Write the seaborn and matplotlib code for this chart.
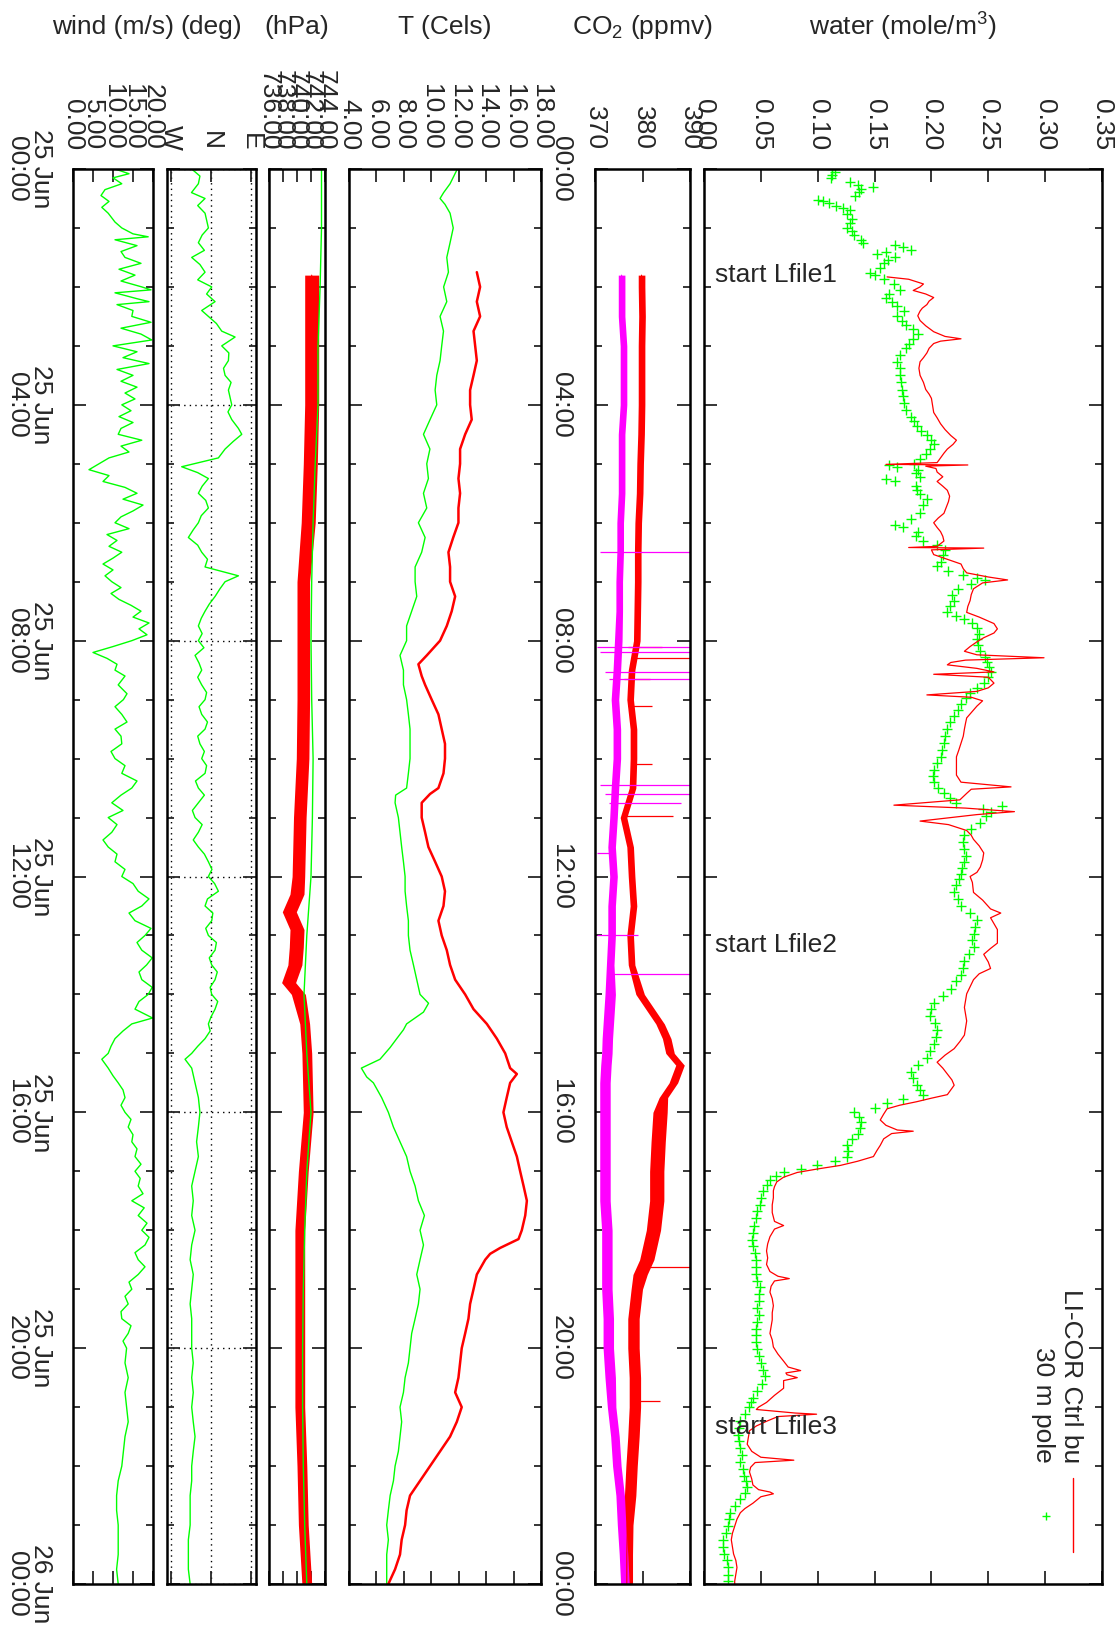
import numpy as np
import matplotlib
matplotlib.use("Agg")
import matplotlib.pyplot as plt
import seaborn as sns
from matplotlib.ticker import FixedLocator, NullLocator
from matplotlib.transforms import blended_transform_factory
from matplotlib.lines import Line2D

sns.set_style("white")
plt.rcParams['font.family'] = ['Liberation Sans', 'DejaVu Sans']
plt.rcParams['mathtext.default'] = 'regular'

# ---------------- data (hour of day, value) ----------------
water_pole = [
 (0.00,0.113),(0.05,0.115),(0.10,0.113),(0.15,0.112),(0.22,0.128),(0.27,0.135),(0.30,0.149),(0.34,0.138),
 (0.39,0.136),(0.45,0.133),(0.52,0.100),(0.55,0.105),(0.58,0.110),(0.62,0.116),(0.66,0.122),(0.70,0.128),
 (0.77,0.126),(0.85,0.130),(0.92,0.128),(1.00,0.126),(1.06,0.130),(1.12,0.132),(1.20,0.138),(1.25,0.140),
 (1.29,0.168),(1.33,0.175),(1.37,0.182),(1.40,0.160),(1.45,0.152),(1.50,0.168),(1.55,0.162),(1.60,0.158),
 (1.68,0.155),(1.76,0.146),(1.80,0.150),(1.86,0.158),(1.95,0.167),(2.05,0.172),(2.12,0.163),(2.18,0.160),
 (2.26,0.165),(2.33,0.170),(2.40,0.176),(2.50,0.170),(2.58,0.174),(2.65,0.178),(2.72,0.184),(2.80,0.188),
 (2.88,0.184),(2.96,0.180),(3.04,0.178),(3.15,0.172),(3.27,0.170),(3.38,0.172),(3.50,0.172),(3.62,0.173),
 (3.74,0.174),(3.85,0.175),(3.97,0.176),(4.08,0.178),(4.20,0.182),(4.28,0.185),(4.36,0.187),(4.44,0.191),
 (4.52,0.196),(4.60,0.200),(4.67,0.202),(4.75,0.199),(4.83,0.195),(4.92,0.190),(5.00,0.185),(5.02,0.163),
 (5.05,0.170),(5.10,0.188),(5.16,0.186),(5.22,0.190),(5.26,0.160),(5.30,0.168),(5.38,0.186),(5.45,0.187),
 (5.52,0.190),(5.60,0.196),(5.70,0.193),(5.84,0.190),(5.94,0.182),(6.04,0.168),(6.08,0.175),(6.15,0.188),
 (6.23,0.186),(6.31,0.193),(6.38,0.205),(6.46,0.212),(6.55,0.210),(6.66,0.208),(6.74,0.205),(6.82,0.215),
 (6.88,0.228),(6.94,0.240),(6.97,0.247),(7.04,0.235),(7.12,0.223),(7.22,0.218),(7.32,0.220),(7.42,0.216),
 (7.52,0.214),(7.58,0.222),(7.63,0.229),(7.70,0.236),(7.79,0.240),(7.88,0.242),(7.98,0.240),(8.08,0.241),
 (8.18,0.243),(8.28,0.247),(8.37,0.249),(8.45,0.251),(8.53,0.252),(8.62,0.250),(8.72,0.246),(8.80,0.240),
 (8.88,0.234),(8.98,0.230),(9.07,0.226),(9.17,0.223),(9.27,0.220),(9.38,0.216),(9.50,0.214),(9.62,0.212),
 (9.74,0.211),(9.85,0.209),(9.97,0.208),(10.08,0.205),(10.20,0.202),(10.30,0.201),(10.40,0.202),(10.50,0.206),
 (10.59,0.211),(10.67,0.216),(10.75,0.222),(10.80,0.262),(10.85,0.245),(10.90,0.252),(10.98,0.248),(11.10,0.243),
 (11.20,0.235),(11.30,0.229),(11.42,0.228),(11.53,0.229),(11.65,0.230),(11.76,0.229),(11.86,0.227),(11.95,0.226),
 (12.05,0.224),(12.15,0.222),(12.27,0.220),(12.38,0.223),(12.50,0.226),(12.62,0.234),(12.74,0.240),(12.85,0.238),
 (12.97,0.237),(13.08,0.236),(13.20,0.237),(13.32,0.233),(13.44,0.229),(13.55,0.228),(13.67,0.226),(13.78,0.222),
 (13.90,0.217),(14.02,0.210),(14.14,0.202),(14.25,0.200),(14.37,0.199),(14.48,0.203),(14.60,0.205),(14.72,0.204),
 (14.84,0.202),(14.96,0.199),(15.08,0.196),(15.20,0.188),(15.31,0.182),(15.42,0.184),(15.54,0.187),(15.62,0.190),
 (15.70,0.193),(15.78,0.175),(15.85,0.161),(15.92,0.150),(16.00,0.132),(16.08,0.136),(16.17,0.138),(16.26,0.137),
 (16.36,0.135),(16.46,0.130),(16.56,0.126),(16.65,0.127),(16.75,0.126),(16.83,0.115),(16.90,0.099),(16.96,0.085),
 (17.02,0.070),(17.08,0.063),(17.14,0.058),(17.24,0.055),(17.33,0.052),(17.45,0.050),(17.57,0.049),(17.68,0.047),
 (17.80,0.046),(17.92,0.044),(18.04,0.043),(18.16,0.042),(18.27,0.043),(18.38,0.045),(18.50,0.046),(18.62,0.046),
 (18.74,0.046),(18.86,0.047),(18.97,0.049),(19.08,0.048),(19.20,0.048),(19.32,0.047),(19.44,0.048),(19.56,0.047),
 (19.67,0.046),(19.78,0.046),(19.90,0.046),(20.02,0.047),(20.14,0.048),(20.26,0.050),(20.37,0.052),(20.48,0.054),
 (20.60,0.051),(20.72,0.047),(20.84,0.043),(20.92,0.041),(21.00,0.040),(21.12,0.036),(21.24,0.032),(21.35,0.031),
 (21.47,0.030),(21.58,0.031),(21.70,0.032),(21.82,0.033),(21.93,0.032),(22.05,0.034),(22.17,0.035),(22.26,0.037),
 (22.36,0.038),(22.45,0.036),(22.55,0.032),(22.67,0.027),(22.79,0.023),(22.90,0.022),(23.02,0.021),(23.14,0.019),
 (23.25,0.017),(23.37,0.017),(23.49,0.018),(23.60,0.020),(23.72,0.021),(23.84,0.021),(23.95,0.021)]

water_licor = [
 (1.83,0.161),(1.87,0.180),(1.95,0.193),(2.00,0.190),(2.06,0.184),(2.12,0.195),(2.18,0.202),(2.24,0.198),
 (2.30,0.196),(2.36,0.192),(2.41,0.190),(2.49,0.188),(2.57,0.190),(2.66,0.195),(2.76,0.202),(2.84,0.212),
 (2.88,0.226),(2.92,0.208),(2.96,0.202),(3.04,0.198),(3.12,0.196),(3.20,0.193),(3.27,0.190),(3.38,0.189),
 (3.50,0.190),(3.62,0.193),(3.74,0.195),(3.82,0.198),(3.89,0.200),(4.01,0.201),(4.13,0.202),(4.22,0.205),
 (4.32,0.208),(4.42,0.212),(4.52,0.217),(4.60,0.222),(4.67,0.219),(4.75,0.214),(4.82,0.211),(4.90,0.208),
 (4.98,0.205),(5.01,0.160),(5.02,0.232),(5.04,0.195),(5.08,0.204),(5.14,0.205),(5.22,0.210),(5.30,0.205),
 (5.38,0.210),(5.45,0.214),(5.55,0.216),(5.64,0.215),(5.74,0.213),(5.84,0.211),(5.92,0.206),(6.00,0.202),
 (6.08,0.205),(6.15,0.208),(6.23,0.210),(6.31,0.211),(6.40,0.205),(6.42,0.180),(6.43,0.246),(6.46,0.200),
 (6.54,0.202),(6.62,0.214),(6.70,0.226),(6.78,0.228),(6.85,0.231),(6.92,0.250),(6.97,0.267),(7.02,0.245),
 (7.12,0.237),(7.22,0.235),(7.32,0.234),(7.42,0.232),(7.52,0.231),(7.60,0.242),(7.71,0.255),(7.80,0.258),
 (7.87,0.255),(7.95,0.246),(8.02,0.240),(8.10,0.234),(8.18,0.229),(8.24,0.240),(8.29,0.299),(8.33,0.230),
 (8.37,0.217),(8.41,0.214),(8.47,0.240),(8.53,0.255),(8.57,0.202),(8.62,0.250),(8.72,0.255),(8.80,0.250),
 (8.86,0.240),(8.92,0.196),(8.96,0.235),(9.02,0.245),(9.11,0.240),(9.20,0.236),(9.31,0.231),(9.40,0.230),
 (9.50,0.229),(9.62,0.228),(9.74,0.226),(9.86,0.224),(9.97,0.222),(10.10,0.222),(10.28,0.222),(10.40,0.226),
 (10.48,0.270),(10.52,0.235),(10.59,0.231),(10.70,0.225),(10.79,0.167),(10.84,0.230),(10.90,0.273),(10.95,0.240),
 (11.06,0.190),(11.12,0.215),(11.22,0.231),(11.30,0.235),(11.37,0.237),(11.48,0.242),(11.60,0.246),(11.72,0.245),
 (11.84,0.243),(11.93,0.240),(12.00,0.234),(12.10,0.236),(12.27,0.237),(12.40,0.245),(12.55,0.252),(12.62,0.261),
 (12.70,0.252),(12.80,0.255),(12.90,0.258),(13.00,0.258),(13.13,0.258),(13.22,0.252),(13.32,0.246),(13.45,0.250),
 (13.56,0.252),(13.65,0.242),(13.75,0.237),(13.87,0.234),(13.99,0.231),(14.10,0.230),(14.22,0.229),(14.34,0.230),
 (14.45,0.231),(14.57,0.230),(14.69,0.229),(14.80,0.225),(14.92,0.220),(15.03,0.212),(15.15,0.205),(15.25,0.210),
 (15.35,0.214),(15.45,0.218),(15.54,0.220),(15.62,0.217),(15.70,0.214),(15.76,0.200),(15.82,0.187),(15.88,0.172),
 (15.94,0.161),(16.03,0.158),(16.13,0.155),(16.22,0.160),(16.30,0.170),(16.32,0.184),(16.36,0.165),(16.45,0.158),
 (16.56,0.155),(16.65,0.152),(16.75,0.149),(16.83,0.135),(16.90,0.120),(16.96,0.100),(17.02,0.082),(17.10,0.070),
 (17.18,0.064),(17.26,0.062),(17.33,0.061),(17.45,0.061),(17.57,0.060),(17.70,0.060),(17.85,0.062),(17.92,0.070),
 (17.98,0.062),(18.11,0.058),(18.23,0.056),(18.35,0.055),(18.47,0.056),(18.58,0.055),(18.70,0.058),(18.78,0.065),
 (18.82,0.075),(18.86,0.062),(18.95,0.059),(19.05,0.058),(19.16,0.060),(19.28,0.061),(19.40,0.060),(19.52,0.060),
 (19.64,0.059),(19.75,0.058),(19.86,0.060),(19.98,0.061),(20.10,0.065),(20.22,0.070),(20.32,0.074),(20.38,0.085),
 (20.42,0.072),(20.45,0.073),(20.50,0.082),(20.55,0.070),(20.68,0.070),(20.80,0.062),(20.92,0.055),(21.00,0.048),
 (21.04,0.046),(21.10,0.080),(21.12,0.099),(21.16,0.065),(21.24,0.055),(21.32,0.046),(21.40,0.040),(21.52,0.039),
 (21.63,0.038),(21.75,0.042),(21.85,0.050),(21.90,0.079),(21.94,0.045),(22.02,0.041),(22.10,0.040),(22.22,0.042),
 (22.32,0.043),(22.40,0.048),(22.44,0.058),(22.47,0.061),(22.52,0.050),(22.63,0.043),(22.72,0.036),(22.79,0.032),
 (22.90,0.029),(23.02,0.027),(23.14,0.025),(23.25,0.024),(23.37,0.025),(23.49,0.026),(23.60,0.028),(23.72,0.029),
 (23.84,0.028),(23.95,0.027),(24.00,0.027)]

# CO2: centre of the noisy traces and half-width of their noise band
co2_hours = [1.8,2.0,2.5,3.0,3.5,4.0,4.5,5.0,5.5,6.0,6.5,7.0,7.5,8.0,8.5,9.0,9.5,10.0,10.5,11.0,11.5,12.0,
             12.5,13.0,13.5,14.0,14.25,14.5,14.75,15.0,15.2,15.5,15.75,16.0,16.5,17.0,17.5,18.0,18.5,18.75,
             19.0,19.5,20.0,20.5,21.0,21.5,22.0,22.5,23.0,23.5,24.0]
co2_pole = [375.6,375.6,375.6,376.0,376.0,376.0,375.6,375.6,375.6,375.3,375.3,375.1,375.1,374.9,374.6,374.2,
            374.6,374.6,374.2,373.9,373.5,373.9,373.5,373.5,373.2,373.2,373.0,372.8,372.6,372.5,372.3,372.1,
            372.1,372.1,372.1,372.1,372.1,372.5,372.5,372.5,372.5,372.8,372.8,373.2,373.5,374.2,374.6,375.3,
            375.6,376.0,376.3]
co2_pole_noise = [0.7]*13 + [0.8]*12 + [1.1]*19 + [0.9]*7
co2_licor = [379.8,379.8,379.9,379.8,379.8,379.8,379.7,379.5,379.4,379.1,379.0,379.0,378.9,378.8,377.7,377.4,
             378.1,378.1,377.9,376.0,377.4,377.7,378.1,377.4,377.7,379.5,381.6,383.7,385.1,385.8,387.9,386.5,
             384.4,383.7,383.3,383.0,383.0,382.3,380.9,379.5,378.8,378.1,378.1,378.4,378.4,378.1,377.7,377.4,
             376.8,376.7,376.7]
co2_licor_noise = [0.7]*25 + [0.9]*8 + [1.5]*7 + [1.2]*11
# single-sample spikes: (hour, from, to)
co2_pole_spikes = [(6.49,371.0,390.0),(8.10,370.5,390.0),(8.19,371.0,390.0),(8.53,372.0,390.0),(8.65,373.0,390.0),
                   (10.45,371.0,390.0),(10.60,372.0,390.0),(10.75,373.0,388.0),(11.60,370.5,374.0),
                   (13.00,370.5,379.0),(13.65,373.0,390.0)]
co2_licor_spikes = [(8.10,377.0,384.0),(8.30,378.0,390.0),(8.65,376.0,381.5),(9.10,377.0,382.0),(10.10,378.0,382.0),
                    (10.97,376.0,386.5),(18.62,380.0,390.0),(20.90,378.0,383.7)]

temp_pole = [
 (0.0,11.9),(0.25,11.37),(0.4,10.9),(0.5,10.64),(0.6,11.0),(0.75,11.37),(1.0,11.6),(1.25,11.37),(1.5,11.13),
 (1.75,11.25),(2.0,10.9),(2.25,11.13),(2.5,10.64),(2.75,10.89),(3.0,10.76),(3.25,10.64),(3.5,10.4),(3.75,10.28),
 (4.0,10.4),(4.25,9.91),(4.5,9.43),(4.75,9.9),(5.0,9.67),(5.25,9.79),(5.5,9.43),(5.75,9.67),(6.0,9.06),(6.25,9.55),
 (6.5,9.3),(6.75,8.82),(7.0,8.82),(7.25,8.94),(7.5,8.57),(7.75,8.2),(8.0,8.2),(8.25,7.72),(8.5,7.97),(8.75,7.97),
 (9.0,8.2),(9.25,8.33),(9.5,8.45),(9.75,8.45),(10.0,8.45),(10.25,8.33),(10.5,8.2),(10.62,7.4),(10.75,7.36),
 (11.0,7.6),(11.25,7.72),(11.5,7.84),(11.75,7.97),(12.0,8.09),(12.25,8.09),(12.5,8.2),(12.75,8.33),(13.0,8.33),
 (13.25,8.45),(13.5,8.7),(13.75,8.94),(14.0,9.18),(14.15,9.8),(14.3,9.43),(14.5,8.2),(14.6,7.97),(14.75,7.48),
 (14.9,7.0),(15.1,6.26),(15.25,4.9),(15.4,5.29),(15.5,5.78),(15.75,6.38),(16.0,6.87),(16.25,7.24),(16.5,7.72),
 (16.75,8.2),(17.0,8.45),(17.25,8.82),(17.5,9.06),(17.75,9.5),(18.0,9.18),(18.25,9.43),(18.5,9.18),(18.75,8.94),
 (19.0,9.18),(19.25,9.06),(19.5,8.82),(19.75,8.57),(20.0,8.45),(20.25,8.33),(20.5,8.09),(20.75,7.97),(21.0,7.72),
 (21.25,7.84),(21.5,7.72),(21.75,7.6),(22.0,7.36),(22.25,7.24),(22.5,7.0),(22.75,6.87),(23.0,6.75),(23.25,6.87),
 (23.5,6.75),(23.75,6.75),(24.0,6.75)]

temp_licor = [
 (1.75,13.32),(2.0,13.56),(2.25,13.32),(2.5,13.56),(2.75,13.08),(3.0,13.2),(3.25,13.32),(3.5,13.08),(3.75,12.83),
 (4.0,12.83),(4.25,12.95),(4.5,12.47),(4.75,12.1),(5.0,12.1),(5.25,11.98),(5.5,12.1),(5.75,11.98),(6.0,11.98),
 (6.25,11.6),(6.5,11.25),(6.75,11.37),(7.0,11.37),(7.25,11.74),(7.5,11.49),(7.75,11.13),(8.0,10.64),(8.25,9.67),
 (8.4,9.06),(8.6,9.3),(8.75,9.55),(9.0,10.03),(9.25,10.52),(9.5,10.76),(9.75,11.0),(10.0,11.0),(10.25,10.89),
 (10.5,10.52),(10.6,9.91),(10.75,9.3),(11.0,9.3),(11.25,9.55),(11.5,9.79),(11.75,10.28),(12.0,10.76),(12.25,11.0),
 (12.5,10.89),(12.75,10.52),(13.0,10.76),(13.25,11.13),(13.5,11.37),(13.75,11.74),(14.0,12.47),(14.25,13.08),
 (14.5,14.05),(14.75,14.78),(15.0,15.39),(15.25,15.75),(15.35,16.24),(15.5,15.75),(15.75,15.5),(16.0,15.26),
 (16.25,15.5),(16.5,15.87),(16.75,16.24),(17.0,16.48),(17.25,16.73),(17.5,16.97),(17.75,16.85),(18.0,16.6),
 (18.15,16.36),(18.3,15.02),(18.4,14.29),(18.5,13.93),(18.75,13.32),(19.0,13.08),(19.25,12.83),(19.5,12.71),
 (19.75,12.47),(20.0,12.22),(20.25,12.1),(20.5,11.98),(20.75,11.74),(21.0,12.22),(21.25,11.86),(21.5,11.37),
 (21.75,10.64),(22.0,9.91),(22.25,9.18),(22.5,8.45),(22.75,8.2),(23.0,8.09),(23.25,7.84),(23.5,7.72),(23.75,7.36),
 (24.0,6.87)]

press_pole = [(0,743.5),(1,743.5),(2,743.3),(3,743.0),(4,743.0),(5,742.6),(6,742.3),(7,742.1),(8,742.0),(9,742.1),
              (10,742.3),(11,742.2),(12,742.0),(13,741.4),(14,741.0),(15,741.4),(16,742.0),(17,741.4),(18,741.1),
              (19,740.9),(20,740.8),(21,740.8),(22,740.9),(23,741.1),(24,741.4)]
press_hours = [1.8,2,3,4,5,6,7,8,9,10,11,12,12.3,12.6,12.9,13.2,13.5,13.8,14.0,14.5,15,16,17,18,19,20,21,22,23,24]
press_licor = [742.1,742.1,742.1,742.1,741.9,741.6,740.9,740.9,740.9,740.8,740.4,740.2,740.0,738.9,740.0,739.9,
               739.7,738.8,740.2,741.1,741.4,741.6,740.9,740.4,740.4,740.4,740.4,740.7,740.9,741.4]
press_licor_noise = [1.0]*6 + [0.9]*6 + [1.0]*7 + [0.7]*11

wind_dir = [
 (0.0,316.5),(0.12,335),(0.25,331.5),(0.4,316),(0.5,346.5),(0.62,330),(0.75,346.5),(1.0,354),(1.12,340),(1.25,331.5),
 (1.38,345),(1.5,316.5),(1.62,335),(1.75,346.5),(1.88,330),(2.0,361.5),(2.12,350),(2.25,369),(2.4,339),(2.5,354),
 (2.62,372),(2.75,384),(2.85,414),(3.0,384),(3.12,400),(3.25,399),(3.38,388),(3.5,391.5),(3.62,405),(3.75,399),
 (4.0,406.5),(4.12,398),(4.25,406.5),(4.4,421.5),(4.5,429),(4.62,410),(4.75,391.5),(4.9,376.5),(5.05,294),
 (5.15,330),(5.25,354),(5.38,340),(5.5,331.5),(5.62,348),(5.75,354),(5.88,338),(6.0,331.5),(6.12,320),(6.25,309),
 (6.38,330),(6.5,339),(6.62,352),(6.75,346.5),(6.9,421.5),(7.0,391.5),(7.12,380),(7.25,369),(7.38,356),(7.5,346.5),
 (7.62,338),(7.75,331.5),(7.88,340),(8.0,331.5),(8.12,344),(8.25,324),(8.38,333),(8.5,339),(8.62,330),(8.75,339),
 (8.88,350),(9.0,346.5),(9.12,333),(9.25,339),(9.38,352),(9.5,346.5),(9.62,330),(9.75,335),(9.88,345),(10.0,339),
 (10.12,350),(10.25,346.5),(10.38,325),(10.5,331.5),(10.62,345),(10.75,331.5),(10.88,318),(11.0,324),(11.12,340),
 (11.25,331.5),(11.38,320),(11.5,331.5),(11.62,345),(11.75,354),(11.88,362),(12.0,354),(12.12,368),(12.25,376.5),
 (12.38,352),(12.5,346.5),(12.62,364),(12.75,361.5),(12.88,348),(13.0,354),(13.12,372),(13.25,369),(13.38,356),
 (13.5,361.5),(13.62,374),(13.75,369),(13.88,358),(14.0,361.5),(14.12,375),(14.25,369),(14.38,360),(14.5,354),
 (14.62,358),(14.75,346.5),(14.88,330),(15.0,316.5),(15.1,301.5),(15.25,316.5),(15.5,324),(15.75,331.5),(16.0,335),
 (16.25,331.5),(16.5,327.5),(16.75,331.5),(17.0,324),(17.25,316.5),(17.5,320),(17.75,316.5),(18.0,324),(18.25,316.5),
 (18.5,313),(18.75,320),(19.0,316.5),(19.25,313),(19.5,316.5),(19.75,316.5),(20.0,316.5),(20.25,320),(20.5,316.5),
 (20.75,320),(21.0,316.5),(21.25,320),(21.5,324),(21.75,320),(22.0,316.5),(22.25,316.5),(22.5,313),(22.75,313),
 (23.0,313),(23.25,309),(23.5,309),(23.75,309),(24.0,313)]

wind_speed = [
 (0.0,10.5),(0.08,14.0),(0.15,10.0),(0.25,12.2),(0.35,8.0),(0.45,7.0),(0.55,9.0),(0.65,7.2),(0.75,8.8),(0.9,10.5),
 (1.0,12.2),(1.1,15.0),(1.15,18.8),(1.2,10.5),(1.3,16.0),(1.4,12.0),(1.5,13.0),(1.6,17.0),(1.7,11.5),(1.8,15.5),
 (1.9,12.0),(2.0,17.2),(2.05,19.5),(2.1,10.5),(2.2,16.0),(2.25,19.0),(2.3,11.0),(2.4,15.0),(2.5,14.7),(2.6,19.5),
 (2.7,12.0),(2.8,17.0),(2.9,19.7),(3.0,10.0),(3.1,16.0),(3.2,12.5),(3.3,19.0),(3.4,11.0),(3.5,15.0),(3.6,12.0),
 (3.7,16.0),(3.8,13.0),(3.9,15.5),(4.0,12.2),(4.1,14.5),(4.2,11.5),(4.3,15.0),(4.4,12.0),(4.5,11.3),(4.6,17.2),
 (4.7,12.0),(4.8,14.0),(4.9,9.0),(5.0,6.5),(5.1,4.0),(5.2,9.0),(5.3,7.5),(5.4,13.0),(5.5,16.0),(5.6,12.5),
 (5.7,17.5),(5.8,15.0),(5.9,12.0),(6.0,10.5),(6.1,14.0),(6.2,8.5),(6.3,11.0),(6.4,9.0),(6.5,12.2),(6.6,10.0),
 (6.7,7.5),(6.8,10.0),(6.9,8.0),(7.0,9.7),(7.1,12.0),(7.2,9.5),(7.3,11.5),(7.4,14.5),(7.5,17.0),(7.6,15.0),
 (7.7,19.0),(7.8,16.5),(7.9,18.5),(8.0,14.7),(8.1,10.0),(8.2,5.0),(8.3,8.5),(8.4,11.0),(8.5,10.5),(8.6,13.0),
 (8.75,11.3),(8.9,13.5),(9.0,12.6),(9.12,10.5),(9.25,12.2),(9.38,13.5),(9.5,10.5),(9.62,12.0),(9.75,12.2),
 (9.88,9.5),(10.0,10.5),(10.12,13.0),(10.25,12.2),(10.38,16.0),(10.5,14.7),(10.62,12.0),(10.75,9.7),(10.88,12.5),
 (11.0,8.8),(11.12,11.0),(11.25,9.7),(11.38,7.5),(11.5,8.8),(11.62,11.0),(11.75,10.5),(11.88,13.0),(12.0,12.2),
 (12.12,15.0),(12.25,16.3),(12.38,19.0),(12.5,17.2),(12.62,14.0),(12.75,15.5),(12.88,19.5),(13.0,18.0),(13.12,16.0),
 (13.25,17.2),(13.38,19.8),(13.5,18.4),(13.62,16.5),(13.75,17.2),(13.88,19.8),(14.0,18.8),(14.12,16.5),(14.25,15.5),
 (14.4,19.9),(14.5,14.7),(14.62,12.5),(14.75,10.5),(14.88,9.5),(15.0,8.8),(15.1,7.2),(15.25,8.8),(15.38,10.0),
 (15.5,11.3),(15.62,12.5),(15.75,13.0),(15.88,12.0),(16.0,13.0),(16.12,14.5),(16.25,13.8),(16.38,15.0),(16.5,14.7),
 (16.62,16.0),(16.75,15.5),(16.88,17.0),(17.0,15.5),(17.12,16.8),(17.25,16.3),(17.38,17.5),(17.5,14.7),(17.62,17.8),
 (17.75,16.3),(17.88,18.5),(18.0,17.2),(18.12,19.0),(18.25,18.0),(18.38,15.5),(18.5,16.3),(18.62,18.0),(18.75,16.3),
 (18.88,14.0),(19.0,14.7),(19.12,13.0),(19.25,13.8),(19.38,12.0),(19.5,12.2),(19.62,14.5),(19.75,13.8),(19.88,12.5),
 (20.0,13.4),(20.25,13.0),(20.5,13.8),(20.75,13.0),(21.0,13.4),(21.25,13.8),(21.5,13.0),(21.75,12.6),(22.0,12.2),
 (22.25,11.3),(22.5,10.9),(22.75,10.9),(23.0,11.3),(23.25,11.3),(23.5,11.3),(23.75,10.9),(24.0,11.3)]

lfile_hours = [1.80, 13.17, 21.33]
lfile_names = ["start Lfile1", "start Lfile2", "start Lfile3"]

time_ticks = [0, 4, 8, 12, 16, 20, 24]
time_labels_date = ["25 Jun\n00:00", "25 Jun\n04:00", "25 Jun\n08:00", "25 Jun\n12:00",
                    "25 Jun\n16:00", "25 Jun\n20:00", "26 Jun\n00:00"]
time_labels_short = ["00:00", "04:00", "08:00", "12:00", "16:00", "20:00", "00:00"]

water_ticks = [0.00, 0.05, 0.10, 0.15, 0.20, 0.25, 0.30, 0.35]
co2_ticks = [370, 380, 390]
temp_ticks = [4, 6, 8, 10, 12, 14, 16, 18]
press_ticks = [736, 738, 740, 742, 744]
dir_ticks = [270, 360, 450]
dir_labels = ["W", "N", "E"]
speed_ticks = [0, 5, 10, 15, 20]

titles = ["wind (m/s)", "(deg)", "(hPa)", "T (Cels)", "CO$_2$ (ppmv)", "water (mole/m$^3$)"]

RED, GREEN, MAGENTA = "#ff0000", "#00ff00", "#ff00ff"

# ---------------- figure ----------------
W, H = 1118, 1625
fig = plt.figure(figsize=(W / 100, H / 100), dpi=100)
fig.patch.set_facecolor("white")
TOP, BOT = 169, 1584
FS = 19


def panel(x0, x1):
    return fig.add_axes([x0 / W, 1 - BOT / H, (x1 - x0) / W, (BOT - TOP) / H])


def trace(ax, series, color, lw=1.0):
    t, v = zip(*series)
    sns.lineplot(x=list(v), y=list(t), orient="y", estimator=None, sort=False,
                 color=color, linewidth=lw, ax=ax, legend=False)


def band(ax, hours, centre, noise, color):
    c = np.asarray(centre)
    n = np.asarray(noise)
    ax.fill_betweenx(hours, c - n, c + n, color=color, linewidth=0)
    sns.lineplot(x=centre, y=hours, orient="y", estimator=None, sort=False,
                 color=color, linewidth=0.8, ax=ax, legend=False)


def spikes(ax, sp, color):
    t, a, b = zip(*sp)
    ax.hlines(t, a, b, color=color, linewidth=0.9)


def style(ax, xlim, xticks, xlabels, ylabels=None, ypad=14.4):
    ax.set_xlim(*xlim)
    ax.set_ylim(24, 0)
    ax.set_xlabel("")
    ax.set_ylabel("")
    ax.set_xticks(xticks)
    ax.set_xticklabels(xlabels)
    ax.xaxis.set_minor_locator(NullLocator())
    ax.yaxis.set_major_locator(FixedLocator(time_ticks))
    ax.yaxis.set_minor_locator(FixedLocator(list(range(25))))
    ax.tick_params(axis="x", which="major", direction="in", length=9.4, width=1.3,
                   top=True, bottom=True, labeltop=True, labelbottom=False,
                   labelrotation=-90, pad=13.5, labelsize=FS)
    ax.tick_params(axis="y", which="major", direction="in", length=9.4, width=1.3,
                   left=True, right=True)
    ax.tick_params(axis="y", which="minor", direction="in", length=5, width=1.3,
                   left=True, right=True)
    if ylabels is not None:
        ax.set_yticklabels(ylabels)
        ax.tick_params(axis="y", labelleft=True, labelrotation=-90, pad=ypad, labelsize=FS)
        for lab in ax.get_yticklabels():
            lab.set_va("center")
            lab.set_multialignment("center")
            lab.set_linespacing(1.0)
    else:
        ax.tick_params(axis="y", labelleft=False)
    for s in ax.spines.values():
        s.set_linewidth(1.8)
        s.set_color("black")


bounds = [(73, 153), (167, 256), (269, 325), (349, 541), (595, 690), (704, 1102)]
ax_spd, ax_dir, ax_p, ax_t, ax_c, ax_w = [panel(a, b) for a, b in bounds]

# wind speed
trace(ax_spd, wind_speed, GREEN)
style(ax_spd, (0, 20), speed_ticks, [f"{v:.2f}" for v in speed_ticks], time_labels_date, ypad=14.4)

# wind direction
trace(ax_dir, wind_dir, GREEN)
style(ax_dir, (261, 461), dir_ticks, dir_labels)
ax_dir.grid(True, which="major", linestyle=(0, (1, 3)), color="black", linewidth=1.0)

# pressure
band(ax_p, press_hours, press_licor, press_licor_noise, RED)
trace(ax_p, press_pole, GREEN)
style(ax_p, (736, 744), press_ticks, [f"{v:.2f}" for v in press_ticks])

# temperature
trace(ax_t, temp_pole, GREEN, lw=1.0)
trace(ax_t, temp_licor, RED, lw=1.8)
style(ax_t, (4, 18), temp_ticks, [f"{v:.2f}" for v in temp_ticks])

# CO2
band(ax_c, co2_hours, co2_licor, co2_licor_noise, RED)
band(ax_c, co2_hours, co2_pole, co2_pole_noise, MAGENTA)
spikes(ax_c, co2_licor_spikes, RED)
spikes(ax_c, co2_pole_spikes, MAGENTA)
style(ax_c, (370, 390), co2_ticks, [str(v) for v in co2_ticks], time_labels_short, ypad=15.8)

# water
trace(ax_w, water_licor, RED, lw=0.9)
wt, wv = zip(*water_pole)
sns.scatterplot(x=list(wv), y=list(wt), marker="+", s=45, color=GREEN, linewidth=1.0,
                ax=ax_w, legend=False)
style(ax_w, (0, 0.35), water_ticks, [f"{v:.2f}" for v in water_ticks])

tr = blended_transform_factory(ax_w.transAxes, ax_w.transData)
for hr, name in zip(lfile_hours, lfile_names):
    ax_w.text(0.028, hr, name, transform=tr, ha="left", va="center", fontsize=FS)

# legend (rotated like the rest of the page)
ax_w.text(0.922, 0.0855, "LI-COR Ctrl bu", transform=ax_w.transAxes, rotation=-90,
          ha="center", va="bottom", fontsize=FS)
ax_w.text(0.852, 0.0855, "30 m pole", transform=ax_w.transAxes, rotation=-90,
          ha="center", va="bottom", fontsize=FS)
ax_w.add_line(Line2D([0.927, 0.927], [0.0749, 0.0226], transform=ax_w.transAxes,
                     color=RED, linewidth=1.0))
ax_w.add_line(Line2D([0.859], [0.0481], transform=ax_w.transAxes, marker="+",
                     markersize=6, color=GREEN, linestyle="none", markeredgewidth=1.0))

# panel titles
for (a, b), title in zip(bounds, titles):
    fig.text((a + b) / 2 / W, 1 - 27 / H, title, ha="center", va="center", fontsize=FS)

fig.savefig("out.png", dpi=100, facecolor="white")
